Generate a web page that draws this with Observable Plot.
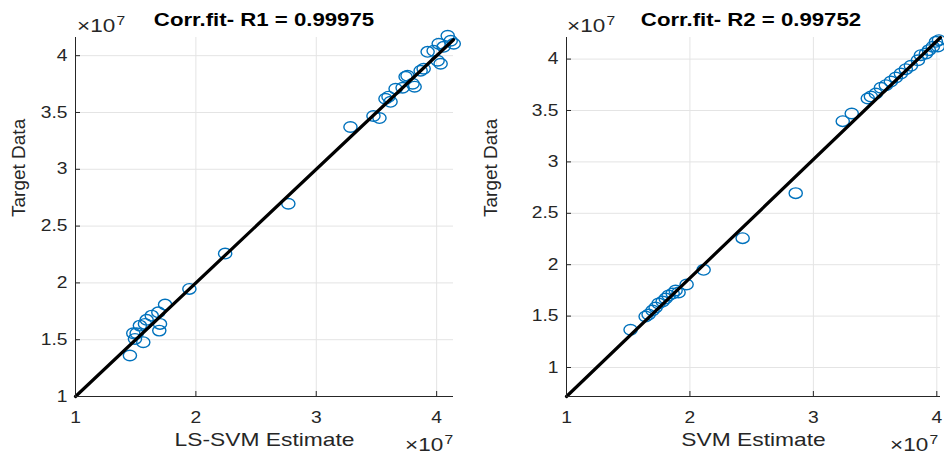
<!DOCTYPE html>
<html>
<head>
<meta charset="utf-8">
<script src="https://cdn.jsdelivr.net/npm/d3@7"></script>
<script src="https://cdn.jsdelivr.net/npm/@observablehq/plot@0.6"></script>
<style>
  html, body { margin: 0; padding: 0; background: #fff; }
  #wrap { position: relative; width: 944px; height: 454px; font-family: "Liberation Sans", Arial, sans-serif; color: #262626; overflow: hidden; }
  .panel { position: absolute; top: 0; }
  .title { position: absolute; font-weight: bold; font-size: 18.5px; line-height: 1; color: #000; white-space: nowrap; transform-origin: center; transform: translateX(-50%) scaleX(1.2); }
  .exp { position: absolute; font-size: 18px; line-height: 1; color: #262626; white-space: nowrap; transform-origin: left center; transform: scaleX(1.25); }
  .exp span { font-size: 12.5px; position: relative; top: -7px; margin-left: 1px; }
</style>
</head>
<body>
<div id="wrap"></div>
<script>
// ---- data (units of 10^7) ----
const lsTitle = "Corr.fit- R1 = 0.99975";
const svmTitle = "Corr.fit- R2 = 0.99752";
const lsXLabel = "LS-SVM Estimate";
const svmXLabel = "SVM Estimate";
const yLabel = "Target Data";
const xTicks = [1, 2, 3, 4];
const yTicks = [1, 1.5, 2, 2.5, 3, 3.5, 4];

const lsEstimate = [1.452, 1.48, 1.494, 1.508, 1.563, 1.535, 1.577, 1.591, 1.633, 1.688, 1.744, 1.702, 1.696, 1.946,
  2.243, 2.768,
  3.284, 3.475, 3.525, 3.575, 3.6, 3.617, 3.659, 3.717, 3.742, 3.758, 3.8, 3.817, 3.867, 3.892, 3.925, 3.975, 4.008, 4.033, 4.058, 4.092, 4.117, 4.142, 4.017];
const lsTarget = [1.361, 1.557, 1.507, 1.557, 1.478, 1.624, 1.639, 1.675, 1.712, 1.741, 1.809, 1.639, 1.58, 1.947,
  2.258, 2.697,
  3.372, 3.469, 3.451, 3.621, 3.639, 3.594, 3.709, 3.718, 3.814, 3.823, 3.753, 3.727, 3.867, 3.885, 4.034, 4.043, 3.955, 3.929, 4.078, 4.175, 4.131, 4.105, 4.105];

const svmEstimate = [1.519, 1.641, 1.665, 1.697, 1.722, 1.746, 1.779, 1.803, 1.827, 1.86, 1.884, 1.908, 1.973, 2.111,
  2.427, 2.857,
  3.238, 3.311, 3.441, 3.466, 3.506, 3.547, 3.587, 3.628, 3.668, 3.709, 3.749, 3.79, 3.847, 3.871, 3.912, 3.936, 3.968, 3.993, 4.017, 4.009];
const svmTarget = [1.367, 1.496, 1.516, 1.554, 1.584, 1.623, 1.642, 1.671, 1.70, 1.72, 1.749, 1.73, 1.807, 1.95,
  2.258, 2.696,
  3.396, 3.471, 3.617, 3.636, 3.665, 3.721, 3.746, 3.782, 3.821, 3.86, 3.902, 3.935, 3.989, 4.038, 4.054, 4.087, 4.12, 4.168, 4.184, 4.123];

const lsFitX = [1, 4.14];
const lsFitY = [1, 4.14];
const svmFitX = [1, 4.03];
const svmFitY = [0.718, 4.21];

const lsXDomain = [1, 4.14], lsYDomain = [1, 4.16];
const svmXDomain = [1, 4.03], svmYDomain = [0.718, 4.21];

// ---- drawing ----
const ellipse = {
  draw(ctx, size) {
    const r = Math.sqrt(size / Math.PI);
    const rx = r * 1.1, ry = r * 0.88, k = 0.5523;
    ctx.moveTo(rx, 0);
    ctx.bezierCurveTo(rx, ry * k, rx * k, ry, 0, ry);
    ctx.bezierCurveTo(-rx * k, ry, -rx, ry * k, -rx, 0);
    ctx.bezierCurveTo(-rx, -ry * k, -rx * k, -ry, 0, -ry);
    ctx.bezierCurveTo(rx * k, -ry, rx, -ry * k, rx, 0);
    ctx.closePath();
  }
};

function panel(xs, ys, fx, fy, xDom, yDom, xLabel, ml, mr) {
  const pts = xs.map((x, i) => ({x, y: ys[i]}));
  const fit = fx.map((x, i) => ({x, y: fy[i]}));
  const ax = "#262626";
  const fmt = d => String(d);
  return Plot.plot({
    width: 472, height: 454,
    marginLeft: ml, marginRight: mr, marginTop: 37, marginBottom: 58,
    style: {fontFamily: "Liberation Sans, Arial, sans-serif", fontSize: "16px", color: ax, background: "white"},
    x: {domain: xDom},
    y: {domain: yDom},
    marks: [
      Plot.gridX(xTicks, {stroke: "#e4e4e4", strokeOpacity: 1}),
      Plot.gridY(yTicks, {stroke: "#e4e4e4", strokeOpacity: 1}),
      Plot.dot(pts, {x: "x", y: "y", r: 6, symbol: ellipse, stroke: "#0072BD", strokeWidth: 1.4, fill: "none"}),
      Plot.line(fit, {x: "x", y: "y", stroke: "#000", strokeWidth: 3.2}),
      Plot.ruleX([xDom[0]], {stroke: ax, strokeWidth: 1}),
      Plot.ruleY([yDom[0]], {stroke: ax, strokeWidth: 1}),
      Plot.axisX(xTicks, {tickSize: -5, tickPadding: 20, tickFormat: fmt, stroke: ax, fill: ax, label: null, fontSize: 16}),
      Plot.axisY(yTicks, {tickSize: -5, tickPadding: 13, tickFormat: fmt, stroke: ax, fill: ax, label: null, fontSize: 16}),
      Plot.text([xLabel], {frameAnchor: "bottom", dy: 49, fontSize: 19, fill: ax, lineAnchor: "bottom"}),
      Plot.text([yLabel], {frameAnchor: "left", dx: -(ml - 18), rotate: -90, fontSize: 19, fill: ax})
    ]
  });
}

const wrap = document.getElementById("wrap");
function place(svg, left) {
  const d = document.createElement("div");
  d.className = "panel"; d.style.left = left + "px";
  d.appendChild(svg); wrap.appendChild(d);
  // horizontally stretch horizontal texts (reference image is widened)
  svg.querySelectorAll("text").forEach(t => {
    if (t.textContent === yLabel) return;
    const len = t.getComputedTextLength();
    if (len > 0) {
      t.setAttribute("textLength", (len * 1.2).toFixed(1));
      t.setAttribute("lengthAdjust", "spacingAndGlyphs");
    }
  });
}
place(panel(lsEstimate, lsTarget, lsFitX, lsFitY, lsXDomain, lsYDomain, lsXLabel, 75, 19), 0);
place(panel(svmEstimate, svmTarget, svmFitX, svmFitY, svmXDomain, svmYDomain, svmXLabel, 94, 4), 472);

function addText(cls, html, left, top) {
  const d = document.createElement("div");
  d.className = cls; d.innerHTML = html;
  d.style.left = left + "px"; d.style.top = top + "px";
  wrap.appendChild(d);
}
addText("title", lsTitle, 264, 11);
addText("title", svmTitle, 751, 11);
addText("exp", "×10<span>7</span>", 77, 17);
addText("exp", "×10<span>7</span>", 567, 17);
addText("exp", "×10<span>7</span>", 405, 436);
addText("exp", "×10<span>7</span>", 890, 436);
</script>
</body>
</html>
